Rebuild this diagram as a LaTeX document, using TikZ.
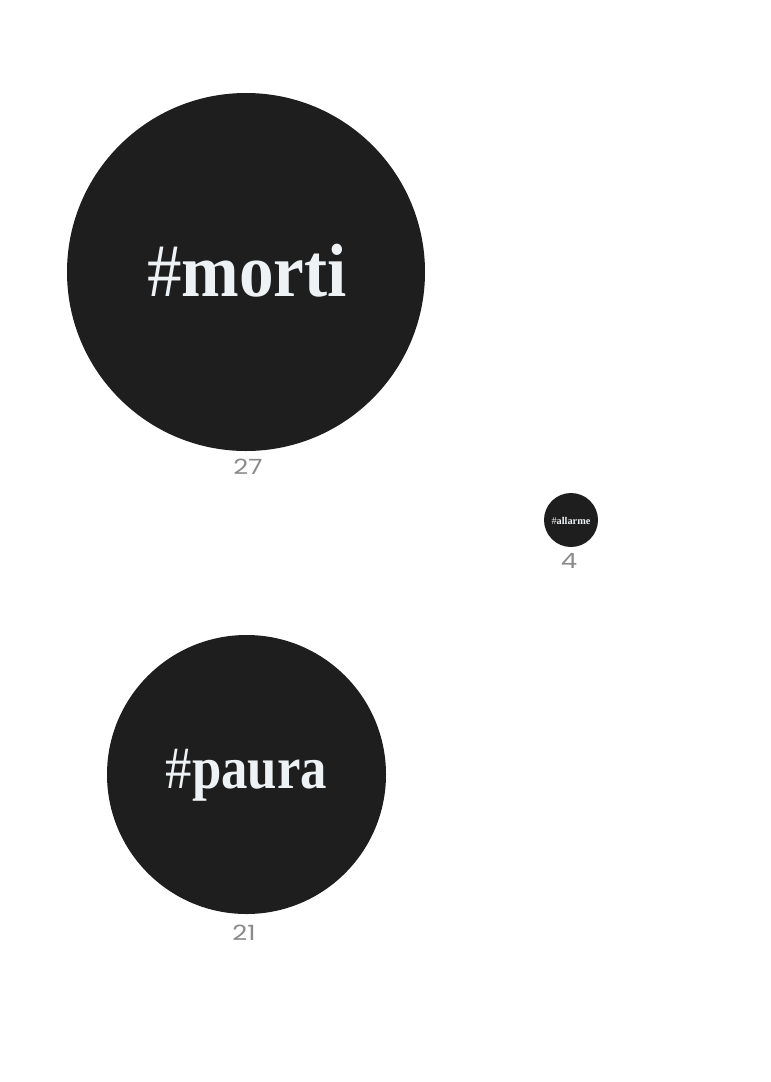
\documentclass[tikz,border=0pt]{standalone}
\usepackage{fontspec}
\setmainfont{Liberation Serif}
\newfontfamily\numfont{Poppins}
\definecolor{bubblefill}{HTML}{1E1E1E}
\definecolor{tagtext}{HTML}{EEF2F4}
\definecolor{countgrey}{HTML}{8A8A8A}
\newcommand{\cnt}[1]{\scalebox{1.3}[1.05]{#1}}
\tikzset{
  bubble/.style={circle, fill=bubblefill, inner sep=0pt, draw=none},
  tag/.style={text=tagtext, inner sep=0pt, anchor=base},
  count/.style={text=countgrey, inner sep=0pt, font=\numfont\fontsize{20}{20}\selectfont},
}
\begin{document}
\begin{tikzpicture}[x=1pt,y=-1pt]
\useasboundingbox (0,0) rectangle (771,1082);
\fill[white] (0,0) rectangle (771,1082);
% bubbles
\node[bubble, minimum size=358pt] (morti) at (246,272) {};
\node[bubble, minimum size=279pt] (paura) at (246.5,774.5) {};
\node[bubble, minimum size=54pt] (allarme) at (571,520) {};
% tags
\node[tag] (mortitag) at (247,296) {\scalebox{0.935}[1.02]{\fontsize{74}{74}\selectfont\#\textbf{morti}}};
\node[tag] (pauratag) at (246.5,788) {\scalebox{0.88}[1]{\fontsize{60}{60}\selectfont\#\textbf{paura}}};
\node[tag] (allarmetag) at (571,524) {\fontsize{10.3}{10.3}\selectfont\#\textbf{allarme}};
% counts
\node[count] (mortic) at (248,467) {\cnt{27}};
\node[count] (allarmec) at (569,561) {\cnt{4}};
\node[count] (paurac) at (244,933) {\cnt{21}};
\end{tikzpicture}
\end{document}
